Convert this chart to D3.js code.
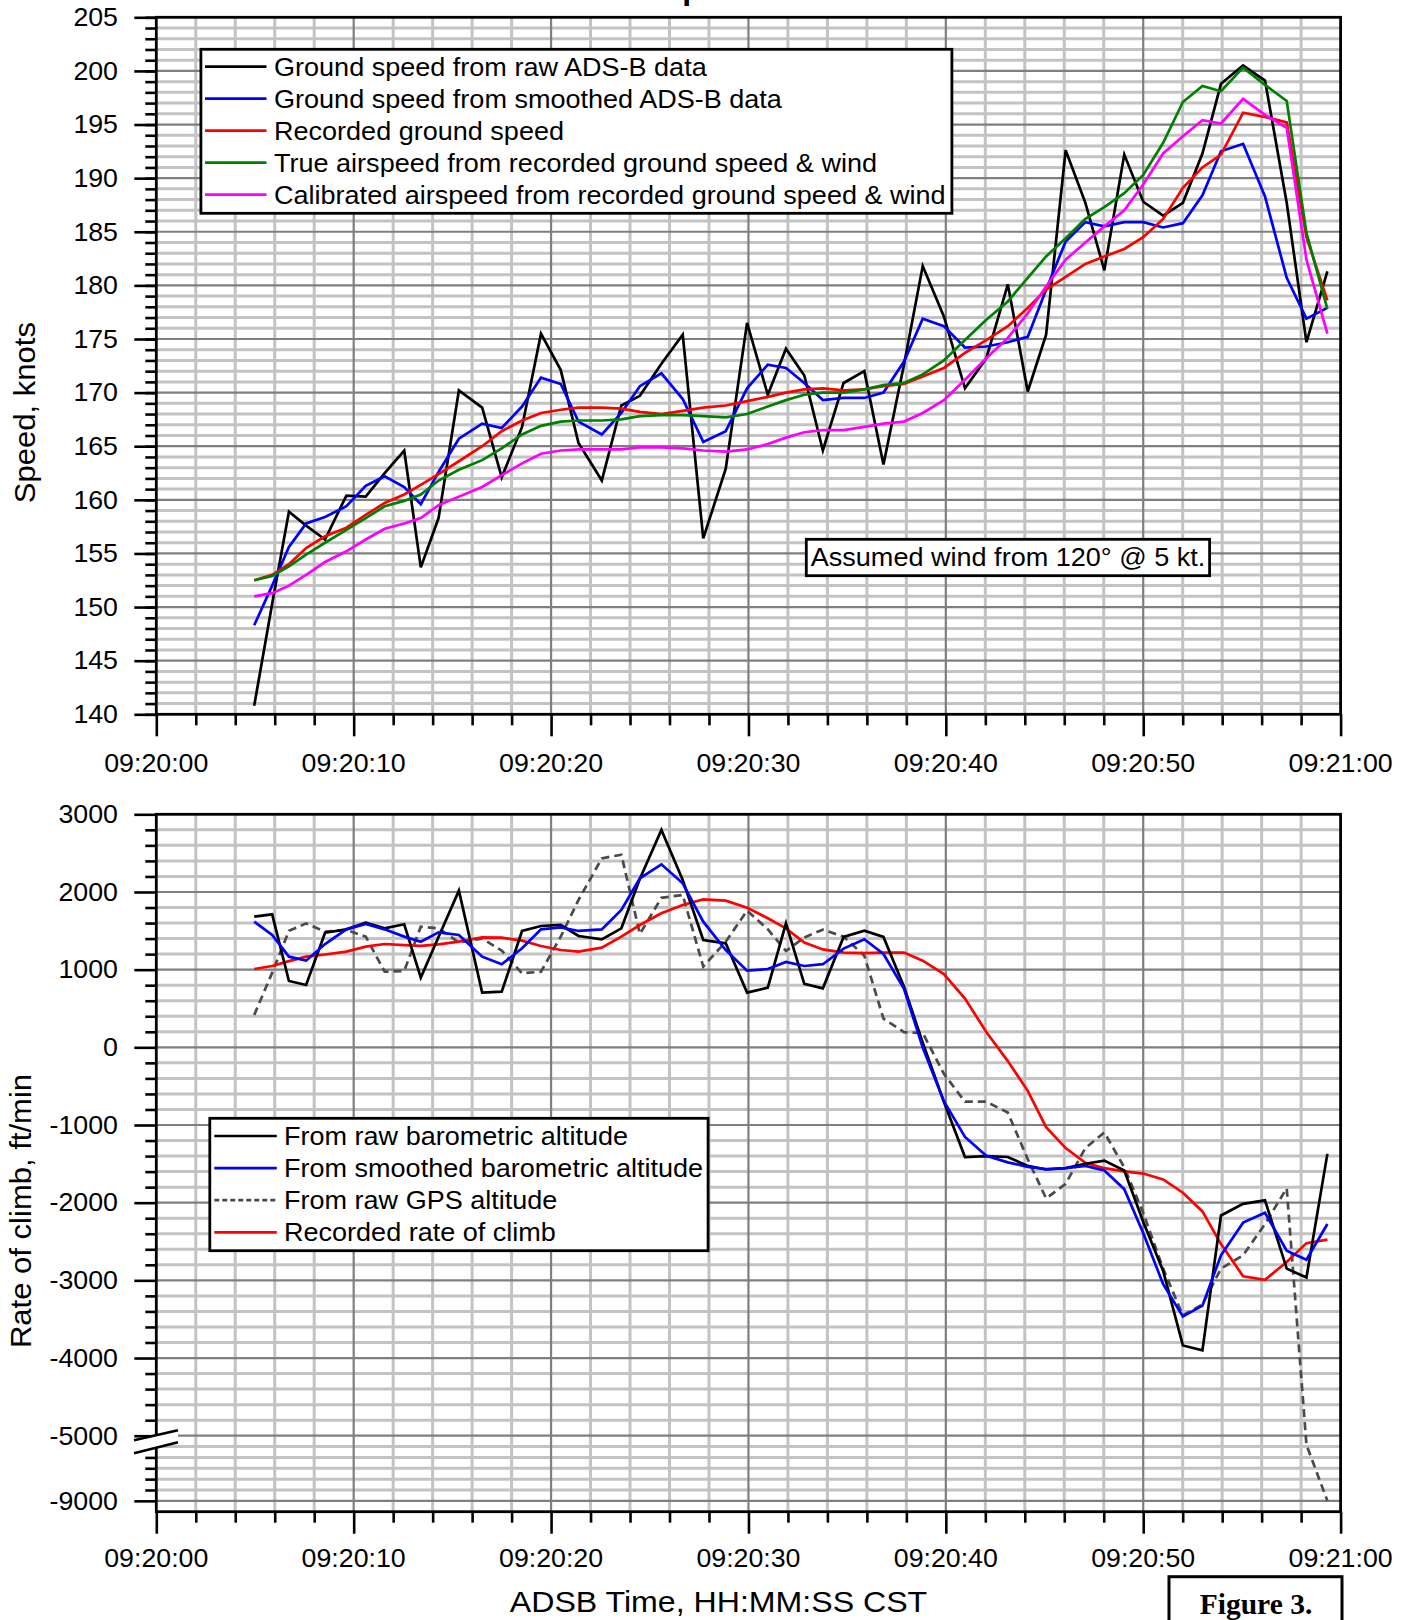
<!DOCTYPE html>
<html>
<head>
<meta charset="utf-8">
<script src="https://cdn.jsdelivr.net/npm/d3@7"></script>
<style>
  body { margin: 0; background: #fff; }
  svg { display: block; font-family: "Liberation Sans", Arial, Helvetica, sans-serif; }
</style>
</head>
<body>
<svg id="chart" width="1409" height="1620"></svg>
<script>
// ---- data (seconds after 09:20:00) ----
const timeTickValues = [0, 10, 20, 30, 40, 50, 60];
const timeTickLabels = ["09:20:00", "09:20:10", "09:20:20", "09:20:30", "09:20:40", "09:20:50", "09:21:00"];

const sampleTimes = [4.96, 5.87, 6.72, 7.59, 8.55, 9.63, 10.61, 11.57, 12.56, 13.40, 14.30, 15.33, 16.51, 17.50,
  18.53, 19.49, 20.49, 21.39, 22.57, 23.56, 24.50, 25.59, 26.67, 27.71, 28.85, 29.93, 30.98, 31.90, 32.83, 33.77,
  34.82, 35.87, 36.84, 37.88, 38.83, 39.90, 40.97, 42.05, 43.14, 44.15, 45.08, 46.07, 47.07, 48.03, 49.04, 50.00,
  51.01, 52.01, 53.00, 53.94, 55.06, 56.17, 57.27, 58.27, 59.33];

// speeds, knots
const gsRawAdsb = [140.8, 150.3, 158.9, 157.6, 156.3, 160.4, 160.3, 162.5, 164.6, 153.7, 158.3, 170.2, 168.6, 162.1,
  166.8, 175.5, 172.1, 165.3, 161.8, 168.8, 169.7, 172.7, 175.4, 156.4, 162.9, 176.5, 169.8, 174.1, 171.6, 164.6,
  170.9, 172.0, 163.3, 172.6, 181.8, 177.1, 170.4, 173.2, 180.1, 170.1, 175.4, 192.6, 187.7, 181.4, 192.2, 187.8,
  186.5, 187.7, 192.3, 198.8, 200.5, 199.1, 187.7, 174.7, 181.3];
const gsSmoothAdsb = [148.3, 152.0, 155.6, 157.8, 158.4, 159.4, 161.3, 162.2, 161.2, 159.6, 162.6, 165.7, 167.1, 166.7,
  168.7, 171.4, 170.8, 167.3, 166.1, 168.1, 170.6, 171.8, 169.4, 165.4, 166.4, 170.4, 172.6, 172.3, 170.9, 169.3,
  169.5, 169.5, 170.0, 172.9, 176.9, 176.2, 174.2, 174.3, 174.7, 175.2, 179.6, 184.1, 185.9, 185.5, 185.9, 185.9,
  185.4, 185.8, 188.4, 192.5, 193.2, 188.3, 180.7, 176.9, 177.9];
const gsRecorded = [152.5, 153.0, 154.0, 155.5, 156.6, 157.4, 158.6, 159.7, 160.5, 161.4, 162.4, 163.6, 165.0, 166.4,
  167.4, 168.1, 168.4, 168.6, 168.6, 168.5, 168.2, 168.0, 168.3, 168.6, 168.8, 169.2, 169.6, 170.0, 170.3, 170.4,
  170.2, 170.3, 170.6, 170.8, 171.5, 172.3, 173.7, 174.9, 176.2, 177.9, 179.6, 180.8, 182.0, 182.7, 183.4, 184.5,
  186.2, 189.1, 191.0, 192.2, 196.1, 195.7, 195.2, 184.5, 178.6];
const tasFromRecorded = [152.5, 152.9, 153.8, 154.9, 156.0, 157.2, 158.3, 159.4, 159.9, 160.5, 161.8, 162.8, 163.7, 164.8,
  166.1, 166.9, 167.3, 167.4, 167.4, 167.5, 167.8, 167.9, 167.9, 167.8, 167.7, 168.0, 168.7, 169.3, 169.8, 170.0,
  170.0, 170.3, 170.7, 170.9, 171.7, 173.0, 174.9, 176.8, 178.5, 180.7, 182.7, 184.4, 186.2, 187.3, 188.6, 190.3,
  193.3, 197.1, 198.6, 198.1, 200.3, 198.7, 197.2, 184.9, 177.8];
const casFromRecorded = [151.0, 151.3, 152.0, 153.0, 154.2, 155.2, 156.3, 157.3, 157.8, 158.3, 159.5, 160.3, 161.2, 162.3,
  163.4, 164.3, 164.6, 164.7, 164.7, 164.7, 164.9, 164.9, 164.8, 164.6, 164.5, 164.7, 165.2, 165.8, 166.3, 166.5,
  166.5, 166.8, 167.1, 167.3, 168.1, 169.3, 171.2, 173.2, 175.1, 177.4, 179.9, 182.4, 184.0, 185.5, 187.0, 189.4,
  192.3, 193.9, 195.4, 195.1, 197.4, 195.9, 194.7, 182.4, 175.5];

// rate of climb, ft/min
const rocRawBaro = [1682, 1712, 854, 803, 1476, 1519, 1605, 1532, 1584, 897, 1420, 2017, 704, 717,
  1498, 1562, 1575, 1433, 1390, 1532, 2170, 2798, 2154, 1382, 1339, 704, 768, 1596, 818, 760,
  1421, 1501, 1421, 780, 60, -700, -1412, -1401, -1412, -1527, -1573, -1556, -1499, -1458, -1585, -2246,
  -2878, -3838, -3901, -2165, -2016, -1970, -2849, -2964, -1372];
const rocSmoothBaro = [1618, 1446, 1167, 1116, 1330, 1519, 1588, 1519, 1425, 1360, 1480, 1446, 1167, 1069,
  1275, 1519, 1545, 1498, 1519, 1768, 2176, 2356, 2111, 1618, 1253, 987, 1008, 1100, 1047, 1070,
  1271, 1392, 1202, 754, -4, -694, -1154, -1395, -1481, -1539, -1567, -1556, -1527, -1585, -1826, -2389,
  -3050, -3464, -3326, -2677, -2257, -2131, -2619, -2734, -2274];
const rocRawGps = [416, 960, 1500, 1596, 1489, 1511, 1425, 974, 983, 1553, 1532, 1350, 1400, 1245,
  953, 974, 1425, 1897, 2433, 2480, 1460, 1925, 1961, 1039, 1360, 1760, 1520, 1240, 1415, 1515,
  1425, 1180, 370, 195, 185, -340, -700, -700, -840, -1440, -1945, -1757, -1297, -1096, -1545, -2131,
  -2849, -3453, -3309, -2849, -2677, -2274, -1815, -5560, -9000];
const rocRecorded = [1008, 1047, 1110, 1167, 1195, 1232, 1296, 1330, 1317, 1305, 1325, 1360, 1416, 1412,
  1373, 1305, 1253, 1232, 1283, 1425, 1575, 1725, 1832, 1905, 1888, 1798, 1661, 1532, 1350, 1260,
  1220, 1214, 1220, 1220, 1116, 944, 628, 197, -177, -560, -1027, -1297, -1487, -1556, -1596, -1625,
  -1700, -1872, -2113, -2533, -2947, -2993, -2763, -2521, -2475];

// axis ticks
const speedMajorTicks = [140, 145, 150, 155, 160, 165, 170, 175, 180, 185, 190, 195, 200, 205];
const rocMajorTicks = [3000, 2000, 1000, 0, -1000, -2000, -3000, -4000, -5000, -9000];
const rocMajorLabels = ["3000", "2000", "1000", "0", "-1000", "-2000", "-3000", "-4000", "-5000", "-9000"];

// legends
const speedSeries = [
  { name: "Ground speed from raw ADS-B data", values: gsRawAdsb, color: "#000000" },
  { name: "Ground speed from smoothed ADS-B data", values: gsSmoothAdsb, color: "#0000ff" },
  { name: "Recorded ground speed", values: gsRecorded, color: "#ff0000" },
  { name: "True airspeed from recorded ground speed & wind", values: tasFromRecorded, color: "#008000" },
  { name: "Calibrated airspeed from recorded ground speed & wind", values: casFromRecorded, color: "#ff00ff" }
];
const rocSeries = [
  { name: "From raw barometric altitude", values: rocRawBaro, color: "#000000" },
  { name: "From smoothed barometric altitude", values: rocSmoothBaro, color: "#0000ff" },
  { name: "From raw GPS altitude", values: rocRawGps, color: "#4a4a4a", dash: "8,5" },
  { name: "Recorded rate of climb", values: rocRecorded, color: "#ff0000" }
];
// stacking order of the lines (last drawn on top)
const rocDrawOrder = [2, 3, 0, 1];
const speedDrawOrder = [0, 1, 2, 3, 4];

// ---- layout ----
const svg = d3.select("#chart");
const X0 = 156.3, X1 = 1340.6;
const x = d3.scaleLinear().domain([0, 60]).range([X0, X1]);

const ySpd = d3.scaleLinear().domain([140, 205]).range([714.3, 17.3]);
const lowerStep = 4000 / 6;
const rocBottom = -9000 - lowerStep;
const yRoc = d3.scaleLinear().domain([rocBottom, -5000, 3000]).range([1511.7, 1435.7, 814.3]);

const MINOR = "#c3c3c3", MAJOR = "#7f7f7f";
const LINE_W = 2.7;

function stretch(sel, k) {
  sel.each(function () {
    const w = this.getComputedTextLength();
    this.setAttribute("textLength", (w * k).toFixed(1));
    this.setAttribute("lengthAdjust", "spacingAndGlyphs");
  });
}

function drawGrid(g, y, yTop, yBottom, hMinor, hMajor) {
  const vMinor = d3.range(2, 60, 2).filter(d => d % 10 !== 0);
  const vMajor = [10, 20, 30, 40, 50];
  g.append("g").selectAll("line").data(hMinor).join("line")
    .attr("x1", X0).attr("x2", X1).attr("y1", d => y(d)).attr("y2", d => y(d))
    .attr("stroke", MINOR).attr("stroke-width", 3);
  g.append("g").selectAll("line").data(vMinor).join("line")
    .attr("y1", yTop).attr("y2", yBottom).attr("x1", d => x(d)).attr("x2", d => x(d))
    .attr("stroke", MINOR).attr("stroke-width", 3);
  g.append("g").selectAll("line").data(hMajor).join("line")
    .attr("x1", X0).attr("x2", X1).attr("y1", d => y(d)).attr("y2", d => y(d))
    .attr("stroke", MAJOR).attr("stroke-width", 2.2);
  g.append("g").selectAll("line").data(vMajor).join("line")
    .attr("y1", yTop).attr("y2", yBottom).attr("x1", d => x(d)).attr("x2", d => x(d))
    .attr("stroke", MAJOR).attr("stroke-width", 2.2);
}

function drawSeries(g, y, series, order, clipId) {
  const line = d3.line().x((d, i) => x(sampleTimes[i])).y(d => y(d));
  const lg = g.append("g").attr("clip-path", `url(#${clipId})`);
  order.forEach(k => {
    const s = series[k];
    lg.append("path").attr("d", line(s.values))
      .attr("fill", "none").attr("stroke", s.color).attr("stroke-width", LINE_W)
      .attr("stroke-linejoin", "miter").attr("stroke-dasharray", s.dash || null);
  });
}

function drawXAxis(g, yBase, labelBaseline) {
  const ax = g.append("g").attr("transform", `translate(0,${yBase})`);
  ax.append("g").call(d3.axisBottom(x).tickValues(d3.range(0, 61, 2).filter(d => d % 10 !== 0)).tickSize(11).tickFormat(""));
  ax.append("g").call(d3.axisBottom(x).tickValues(timeTickValues).tickSize(22).tickFormat(""));
  ax.selectAll(".domain").remove();
  ax.selectAll("line").attr("stroke", "#000").attr("stroke-width", 2.6);
  const lbl = g.append("g").selectAll("text").data(timeTickValues).join("text")
    .attr("x", d => x(d)).attr("y", labelBaseline).attr("text-anchor", "middle")
    .attr("font-size", 25).attr("fill", "#000").text((d, i) => timeTickLabels[i]);
  stretch(lbl, 1.07);
}

function drawFrame(g, yTop, yBottom) {
  g.append("rect").attr("x", X0).attr("y", yTop).attr("width", X1 - X0).attr("height", yBottom - yTop)
    .attr("fill", "none").attr("stroke", "#000").attr("stroke-width", 2.8);
}

function drawLegend(g, series, box, rowY, sampleX0, sampleX1, textX) {
  g.append("rect").attr("x", box[0]).attr("y", box[1]).attr("width", box[2] - box[0]).attr("height", box[3] - box[1])
    .attr("fill", "#fff").attr("stroke", "#000").attr("stroke-width", 2.8);
  series.forEach((s, i) => {
    const yy = rowY[0] + i * rowY[1];
    g.append("line").attr("x1", sampleX0).attr("x2", sampleX1).attr("y1", yy).attr("y2", yy)
      .attr("stroke", s.color).attr("stroke-width", LINE_W).attr("stroke-dasharray", s.dash ? "5,3" : null);
    const t = g.append("text").attr("x", textX).attr("y", yy + 9).attr("font-size", 25.5).attr("fill", "#000").text(s.name);
    stretch(t, 1.06);
  });
}

const defs = svg.append("defs");
defs.append("clipPath").attr("id", "clipSpd").append("rect")
  .attr("x", X0).attr("y", 17.3).attr("width", X1 - X0).attr("height", 714.3 - 17.3);
defs.append("clipPath").attr("id", "clipRoc").append("rect")
  .attr("x", X0).attr("y", 814.3).attr("width", X1 - X0).attr("height", 1511.7 - 814.3);

// ---- title: sits above the page edge, only its descender shows ----
svg.append("text").attr("x", 661).attr("y", -0.8).attr("font-size", 32).attr("font-weight", "bold")
  .attr("fill", "#000").text("Speed and Rate of Climb");

// ---- upper panel: speeds ----
const speedPanel = svg.append("g");
drawGrid(speedPanel, ySpd, 17.3, 714.3,
  d3.range(141, 205).filter(d => d % 5 !== 0), speedMajorTicks.filter(d => d > 140 && d < 205));
drawSeries(speedPanel, ySpd, speedSeries, speedDrawOrder, "clipSpd");
drawFrame(speedPanel, 17.3, 714.3);
{
  const ay = speedPanel.append("g").attr("transform", `translate(${X0},0)`);
  ay.append("g").call(d3.axisLeft(ySpd).tickValues(d3.range(140, 206)).tickSize(11).tickFormat(""));
  ay.append("g").call(d3.axisLeft(ySpd).tickValues(speedMajorTicks).tickSize(22).tickFormat(""));
  ay.selectAll(".domain").remove();
  ay.selectAll("line").attr("stroke", "#000").attr("stroke-width", 2.6);
  const yl = speedPanel.append("g").selectAll("text").data(speedMajorTicks).join("text")
    .attr("x", 118).attr("y", d => ySpd(d) + 8.8).attr("text-anchor", "end")
    .attr("font-size", 25).attr("fill", "#000").text(d => d);
  stretch(yl, 1.07);
}
drawXAxis(speedPanel, 714.3, 771.7);
drawLegend(speedPanel, speedSeries, [200.9, 49.3, 951.9, 213.3], [66.7, 32], 205, 266.5, 274);
{
  speedPanel.append("rect").attr("x", 806.3).attr("y", 539.3).attr("width", 1209.6 - 806.3).attr("height", 575.7 - 539.3)
    .attr("fill", "#fff").attr("stroke", "#000").attr("stroke-width", 2.8);
  const t = speedPanel.append("text").attr("x", 1008).attr("y", 566).attr("text-anchor", "middle")
    .attr("font-size", 26).attr("fill", "#000").text("Assumed wind from 120° @ 5 kt.");
  stretch(t, 1.04);
}
{
  const t = speedPanel.append("text").attr("transform", "translate(35,412.6) rotate(-90)")
    .attr("text-anchor", "middle").attr("font-size", 29).attr("fill", "#000").text("Speed, knots");
  stretch(t, 1.07);
}

// ---- lower panel: rate of climb ----
const climbPanel = svg.append("g");
const upperMinor = d3.range(-5000, 3001, 200).filter(d => d % 1000 !== 0);
const lowerMinor = d3.range(1, 6).map(k => -5000 - k * lowerStep);
drawGrid(climbPanel, yRoc, 814.3, 1511.7, upperMinor.concat(lowerMinor), rocMajorTicks.filter(d => d < 3000));
drawSeries(climbPanel, yRoc, rocSeries, rocDrawOrder, "clipRoc");
drawFrame(climbPanel, 814.3, 1511.7);
{
  const ay = climbPanel.append("g").attr("transform", `translate(${X0},0)`);
  ay.append("g").call(d3.axisLeft(yRoc).tickValues(upperMinor.concat(lowerMinor)).tickSize(11).tickFormat(""));
  ay.append("g").call(d3.axisLeft(yRoc).tickValues(rocMajorTicks).tickSize(22).tickFormat(""));
  ay.selectAll(".domain").remove();
  ay.selectAll("line").attr("stroke", "#000").attr("stroke-width", 2.6);
  const yl = climbPanel.append("g").selectAll("text").data(rocMajorTicks).join("text")
    .attr("x", 118).attr("y", d => yRoc(d) + 8.8).attr("text-anchor", "end")
    .attr("font-size", 25).attr("fill", "#000").text((d, i) => rocMajorLabels[i]);
  stretch(yl, 1.07);
  // axis break marks between -5000 and the compressed lower segment
  const yb = yRoc(-5000);
  climbPanel.append("polygon")
    .attr("points", `134,${yb + 4.5} 178,${yb - 5.5} 178,${yb + 6.5} 134,${yb + 17.5}`)
    .attr("fill", "#fff");
  [[yb + 4.5, yb - 5.5], [yb + 17.5, yb + 6.5]].forEach(([a, b]) => {
    climbPanel.append("line").attr("x1", 134).attr("y1", a).attr("x2", 178).attr("y2", b)
      .attr("stroke", "#000").attr("stroke-width", 2.6);
  });
}
drawXAxis(climbPanel, 1511.7, 1567.3);
drawLegend(climbPanel, rocSeries, [209.8, 1118.3, 708.1, 1250.7], [1136, 32.1], 214.3, 276.8, 284);
{
  const t = climbPanel.append("text").attr("transform", "translate(31,1211) rotate(-90)")
    .attr("text-anchor", "middle").attr("font-size", 29).attr("fill", "#000").text("Rate of climb, ft/min");
  stretch(t, 1.07);
  const xt = climbPanel.append("text").attr("x", 718.5).attr("y", 1611.7).attr("text-anchor", "middle")
    .attr("font-size", 30).attr("fill", "#000").text("ADSB Time, HH:MM:SS CST");
  stretch(xt, 1.07);
}

// ---- figure tag ----
svg.append("rect").attr("x", 1169).attr("y", 1576.7).attr("width", 173).attr("height", 60)
  .attr("fill", "#fff").attr("stroke", "#000").attr("stroke-width", 3);
svg.append("text").attr("x", 1256).attr("y", 1613.5).attr("text-anchor", "middle")
  .attr("font-family", "'Liberation Serif', 'Times New Roman', serif").attr("font-weight", "bold")
  .attr("font-size", 29.5).attr("fill", "#000").text("Figure 3.");
</script>
</body>
</html>
